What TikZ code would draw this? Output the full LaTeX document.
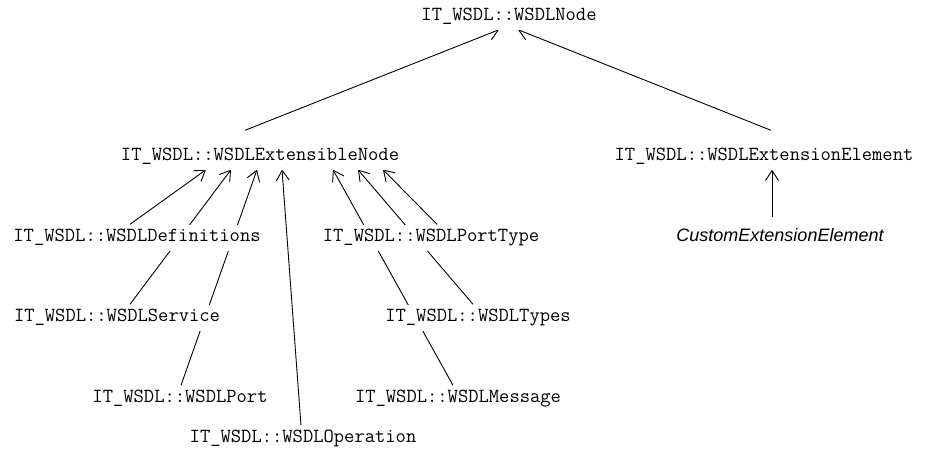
\documentclass[tikz,border=0pt]{standalone}
\usepackage{fontspec}
\setsansfont{Liberation Sans}
\usepackage{tikz}
\usetikzlibrary{arrows.meta, backgrounds, positioning}
\tikzset{
    cls/.style={rectangle, fill=white, inner xsep=3pt, inner ysep=6pt, text height=11pt, text depth=3pt, font=\ttfamily\fontsize{20}{22}\selectfont},
    usercls/.style={cls, font=\sffamily\itshape\fontsize{18}{20}\selectfont},
    inherit/.style={-{Straight Barb[length=10pt, width=13pt]}, line width=0.9pt}
}

\begin{document}
\begin{tikzpicture}[x=1pt, y=-1pt]
    \useasboundingbox (0,0) rectangle (928,461);

    % --- BASE CLASSES ---
    \node[cls] (root) at (509,16.5) {IT\_WSDL::WSDLNode};
    \node[cls] (ext) at (260,156.5) {IT\_WSDL::WSDLExtensibleNode};
    \node[cls] (extel) at (764,156.5) {IT\_WSDL::WSDLExtensionElement};

    % --- DERIVED CLASSES ---
    \node[cls] (def) at (137,237.5) {IT\_WSDL::WSDLDefinitions};
    \node[cls] (ptype) at (431,237.5) {IT\_WSDL::WSDLPortType};
    \node[usercls] (custom) at (780,237.5) {CustomExtensionElement};
    \node[cls] (serv) at (117,317.5) {IT\_WSDL::WSDLService};
    \node[cls] (types) at (478,317.5) {IT\_WSDL::WSDLTypes};
    \node[cls] (port) at (180,398.5) {IT\_WSDL::WSDLPort};
    \node[cls] (msg) at (458,398.5) {IT\_WSDL::WSDLMessage};
    \node[cls] (oper) at (303,438.5) {IT\_WSDL::WSDLOperation};

    % Inheritance lines (behind the labels)
    \begin{pgfonlayer}{background}
        \draw[inherit] ([xshift=-15pt, yshift=13pt]ext.north) -- ([xshift=-10pt]root.south);
        \draw[inherit] ([xshift=7pt, yshift=13pt]extel.north) -- ([xshift=9pt]root.south);
        \draw[inherit] ([xshift=-8pt, yshift=7pt]custom.north) -- ([xshift=8pt]extel.south);

        \draw[inherit] ([xshift=-7pt]def.north) -- ([xshift=-54pt]ext.south);
        \draw[inherit] ([xshift=13pt]serv.north) -- ([xshift=-29pt]ext.south);
        \draw[inherit] ([xshift=1pt]port.north) -- ([xshift=-3pt]ext.south);
        \draw[inherit] ([xshift=-2pt]oper.north) -- ([xshift=22pt]ext.south);
        \draw[inherit] ([xshift=-5pt]msg.north) -- ([xshift=73pt]ext.south);
        \draw[inherit] ([xshift=-5pt]types.north) -- ([xshift=98pt]ext.south);
        \draw[inherit] ([xshift=6pt]ptype.north) -- ([xshift=123pt]ext.south);
    \end{pgfonlayer}
\end{tikzpicture}
\end{document}
